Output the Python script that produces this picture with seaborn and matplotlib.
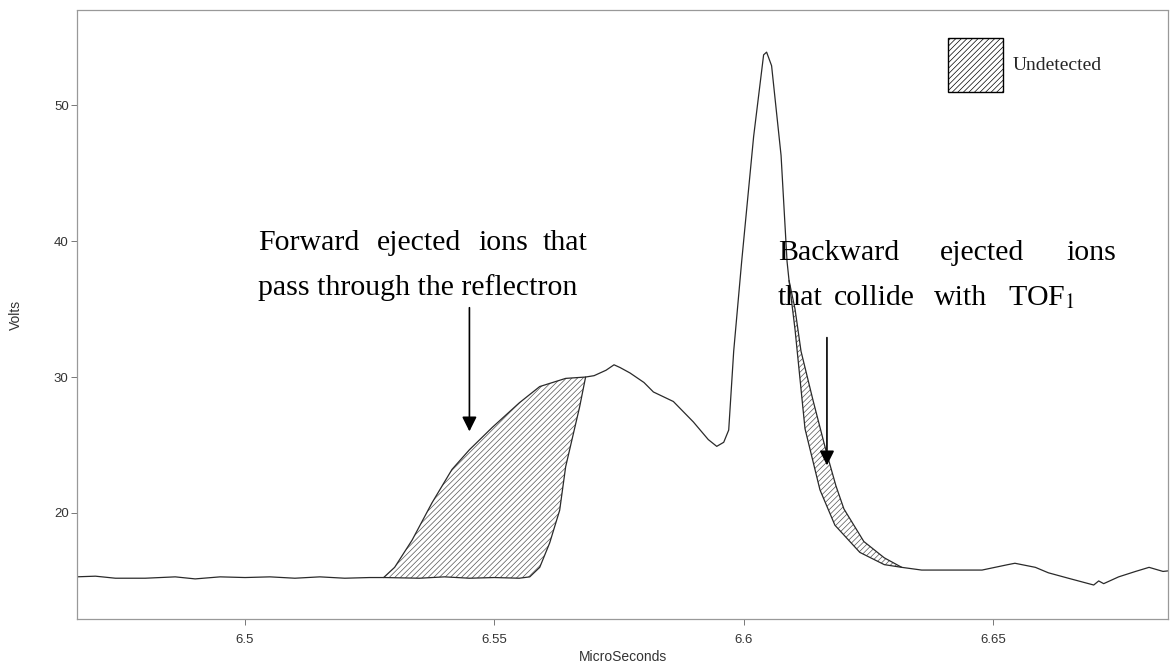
import numpy as np
import matplotlib
matplotlib.use("Agg")
import matplotlib.pyplot as plt
import seaborn as sns
from matplotlib.patches import Patch

# ---- data ----
time_us = [6.466, 6.470, 6.474, 6.480, 6.486, 6.490, 6.495, 6.500, 6.505, 6.510,
           6.515, 6.520, 6.525, 6.528, 6.535, 6.540, 6.545, 6.550, 6.555, 6.5571,
           6.5591, 6.5611, 6.5631, 6.5643, 6.5657, 6.5671, 6.5683, 6.5700, 6.5724, 6.5740,
           6.5752, 6.5772, 6.5800, 6.5819, 6.5859, 6.5899, 6.5929, 6.5946, 6.5960, 6.5970,
           6.5980, 6.5996, 6.6020, 6.6040, 6.6046, 6.6056, 6.6075, 6.6087, 6.6091, 6.6103,
           6.6123, 6.6153, 6.6183, 6.6233, 6.6282, 6.6317, 6.6357, 6.6423, 6.6478, 6.6530,
           6.6544, 6.6585, 6.6611, 6.6651, 6.6702, 6.6712, 6.6722, 6.6752, 6.6786, 6.6813,
           6.6841, 6.6867]
volts = [15.3, 15.35, 15.2, 15.2, 15.3, 15.15, 15.3, 15.25, 15.3, 15.2,
         15.3, 15.2, 15.25, 15.25, 15.2, 15.3, 15.2, 15.25, 15.2, 15.3,
         16.0, 17.8, 20.2, 23.4, 25.6, 27.8, 30.0, 30.1, 30.5, 30.9,
         30.7, 30.3, 29.6, 28.9, 28.2, 26.7, 25.4, 24.9, 25.2, 26.1,
         31.9, 38.5, 47.7, 53.7, 53.9, 52.9, 46.3, 38.5, 37.1, 33.5,
         26.2, 21.7, 19.1, 17.1, 16.2, 16.0, 15.8, 15.8, 15.8, 16.2,
         16.3, 16.0, 15.6, 15.2, 14.7, 15.0, 14.8, 15.3, 15.7, 16.0,
         15.7, 15.8]

# undetected envelopes
fwd_time = [6.5278, 6.5300, 6.5335, 6.5375, 6.5415, 6.5450, 6.5496, 6.5550, 6.5591, 6.5643, 6.5683]
fwd_upper = [15.25, 16.0, 18.0, 20.75, 23.2, 24.65, 26.3, 28.1, 29.3, 29.9, 30.0]
bwd_time = [6.6091, 6.6103, 6.6115, 6.6139, 6.6165, 6.6185, 6.6201, 6.6241, 6.6282, 6.6317]
bwd_upper = [37.1, 35.0, 31.9, 28.3, 24.6, 22.0, 20.3, 17.9, 16.7, 16.0]

x_ticks = [6.5, 6.55, 6.6, 6.65]
x_ticklabels = ["6.5", "6.55", "6.6", "6.65"]
y_ticks = [20, 30, 40, 50]
y_ticklabels = ["20", "30", "40", "50"]

# ---- style ----
sns.set_theme(style="white")
plt.rcParams["font.family"] = ["Liberation Sans", "DejaVu Sans"]
plt.rcParams["hatch.linewidth"] = 0.5
plt.rcParams["mathtext.fontset"] = "stix"

W, H = 1170, 669
fig = plt.figure(figsize=(W / 100, H / 100), dpi=100)
ax = fig.add_axes([77 / W, 1 - 619 / H, (1168 - 77) / W, (619 - 10) / H])

line_col = "#2a2a2a"
t = np.array(time_us)
v = np.array(volts)

sns.lineplot(x=time_us, y=volts, ax=ax, color=line_col, lw=0.9, sort=False)
sns.lineplot(x=fwd_time, y=fwd_upper, ax=ax, color=line_col, lw=0.9, sort=False)
sns.lineplot(x=bwd_time, y=bwd_upper, ax=ax, color=line_col, lw=0.9, sort=False)

for et, eu in [(fwd_time, fwd_upper), (bwd_time, bwd_upper)]:
    et = np.array(et)
    xs = np.union1d(et, t[(t >= et[0]) & (t <= et[-1])])
    ax.fill_between(xs, np.interp(xs, et, eu), np.interp(xs, t, v),
                    facecolor="none", edgecolor="#555555", hatch="//////", lw=0)

ax.set_xlim(6.4663, 6.6851)
ax.set_ylim(12.2, 57.0)
ax.set_xticks(x_ticks)
ax.set_xticklabels(x_ticklabels)
ax.set_yticks(y_ticks)
ax.set_yticklabels(y_ticklabels)
ax.tick_params(axis="both", which="both", direction="out", length=4, width=0.7,
               color="#777777", labelsize=9.5, labelcolor="#333333", pad=7,
               left=True, bottom=True)
ax.tick_params(axis="y", pad=2)
for s in ax.spines.values():
    s.set_visible(True)
    s.set_color("#999999")
    s.set_linestyle((0, (1, 1)))
    s.set_linewidth(0.9)

ax.set_xlabel("MicroSeconds", fontsize=10, color="#333333", labelpad=3)
ax.set_ylabel("Volts", fontsize=10, color="#333333", labelpad=22)

# ---- annotations ----
serif = ["Liberation Serif", "DejaVu Serif"]
fs = 21.5

def words(items, y_px):
    for word, x_px in items:
        fig.text(x_px / W, 1 - y_px / H, word, family=serif, fontsize=fs,
                 ha="left", va="baseline", color="black")

words([("Forward", 258), ("ejected", 377), ("ions", 478), ("that", 543)], 250)
words([("pass through the reflectron", 258)], 295)
words([("Backward", 778), ("ejected", 940), ("ions", 1066)], 260)
words([("that", 778), ("collide", 834), ("with", 934), ("TOF$_1$", 1008)], 305)

arrow = dict(arrowstyle="-|>", color="black", lw=1.2, mutation_scale=22, shrinkA=0, shrinkB=0)
ax.annotate("", xy=(6.5450, 26.0), xytext=(6.5450, 35.1), arrowprops=arrow)
ax.annotate("", xy=(6.6167, 23.5), xytext=(6.6167, 32.9), arrowprops=arrow)

handle = Patch(facecolor="white", edgecolor="black", hatch="//////", lw=1.0)
leg = ax.legend(handles=[handle], labels=["Undetected"], loc="upper left",
                bbox_to_anchor=((948 - 77) / (1168 - 77), 1 - (38 - 10) / (619 - 10)),
                frameon=False, handlelength=2.85, handleheight=3.9, handletextpad=0.45,
                borderpad=0, borderaxespad=0,
                prop={"family": serif, "size": 14})

fig.savefig("out.png", dpi=100)
